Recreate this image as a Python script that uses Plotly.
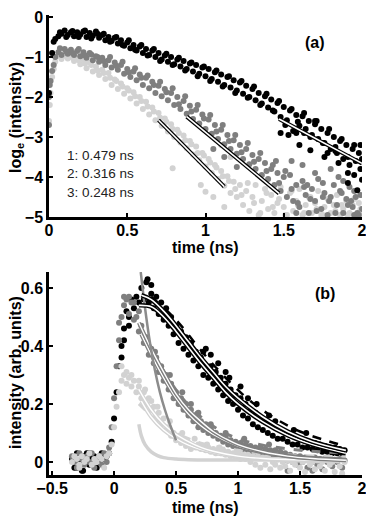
import plotly.graph_objects as go

# ---------------- panel (a): log_e(intensity) vs time ----------------
t_a = [
    0.00, 0.02, 0.04, 0.06, 0.08, 0.10, 0.12, 0.14, 0.16, 0.18,
    0.20, 0.22, 0.24, 0.26, 0.28, 0.30, 0.32, 0.34, 0.36, 0.38,
    0.40, 0.42, 0.44, 0.46, 0.48, 0.50, 0.52, 0.54, 0.56, 0.58,
    0.60, 0.62, 0.64, 0.66, 0.68, 0.70, 0.72, 0.74, 0.76, 0.78,
    0.80, 0.82, 0.84, 0.86, 0.88, 0.90, 0.92, 0.94, 0.96, 0.98,
    1.00, 1.02, 1.04, 1.06, 1.08, 1.10, 1.12, 1.14, 1.16, 1.18,
    1.20, 1.22, 1.24, 1.26, 1.28, 1.30, 1.32, 1.34, 1.36, 1.38,
    1.40, 1.42, 1.44, 1.46, 1.48, 1.50, 1.52, 1.54, 1.56, 1.58,
    1.60, 1.62, 1.64, 1.66, 1.68, 1.70, 1.72, 1.74, 1.76, 1.78,
    1.80, 1.82, 1.84, 1.86, 1.88, 1.90, 1.92, 1.94, 1.96, 1.98,
    2.00,
]
log_1 = [
    -1.90, -0.90, -0.55, -0.48, -0.42, -0.34, -0.45, -0.38, -0.48, -0.38,
    -0.44, -0.36, -0.50, -0.40, -0.47, -0.36, -0.52, -0.45, -0.58, -0.50,
    -0.60, -0.52, -0.66, -0.58, -0.72, -0.64, -0.78, -0.70, -0.84, -0.74,
    -0.90, -0.80, -0.95, -0.84, -1.00, -0.90, -1.06, -0.96, -1.12, -1.00,
    -1.18, -1.06, -1.24, -1.10, -1.30, -1.16, -1.36, -1.20, -1.42, -1.26,
    -1.48, -1.30, -1.55, -1.38, -1.62, -1.44, -1.70, -1.50, -1.76, -1.58,
    -1.84, -1.64, -1.92, -1.72, -2.00, -1.80, -2.08, -1.90, -2.16, -1.98,
    -2.26, -2.06, -2.36, -2.15, -2.50, -2.25, -2.58, -2.34, -2.85, -2.45,
    -2.72, -2.48, -2.80, -2.60, -2.95, -2.68, -3.05, -2.80, -3.15, -2.90,
    -3.30, -3.00, -3.40, -3.10, -3.55, -3.20, -3.70, -3.30, -3.60, -3.40,
    -3.55,
]
log_2 = [
    -2.70, -1.35, -1.00, -0.88, -0.95, -0.80, -0.92, -0.82, -0.95, -0.85,
    -0.98, -0.88, -1.02, -0.90, -1.08, -0.98, -1.12, -1.02, -1.20, -1.08,
    -1.26, -1.14, -1.32, -1.20, -1.42, -1.30, -1.50, -1.36, -1.58, -1.44,
    -1.70, -1.52, -1.78, -1.62, -1.90, -1.72, -1.98, -1.80, -2.08, -1.90,
    -2.20, -2.00, -2.30, -2.10, -2.42, -2.22, -2.55, -2.32, -2.66, -2.44,
    -2.80, -2.56, -2.92, -2.70, -3.05, -2.82, -3.18, -2.95, -3.30, -3.08,
    -3.42, -3.20, -3.55, -3.30, -3.68, -3.45, -3.80, -3.55, -3.95, -3.65,
    -4.05, -3.80, -4.20, -3.90, -4.35, -4.00, -4.50, -3.95, -4.60, -4.20,
    -4.75, -4.10, -4.45, -4.90, -4.30, -4.60, -4.05, -4.80, -4.40, -4.95,
    -4.50, -4.20, -4.70, -4.35, -4.90, -4.55, -4.25, -4.75, -4.50, -4.95,
    -4.80,
]
log_3 = [
    -2.60, -1.50, -1.12, -0.98, -1.05, -0.92, -1.04, -0.95, -1.10, -1.00,
    -1.18, -1.06, -1.28, -1.14, -1.36, -1.24, -1.45, -1.32, -1.55, -1.40,
    -1.70, -1.56, -1.80, -1.66, -1.92, -1.78, -2.04, -1.88, -2.16, -2.00,
    -2.30, -2.12, -2.44, -2.26, -2.58, -2.40, -2.72, -2.54, -2.86, -2.68,
    -3.00, -2.82, -3.14, -2.96, -3.28, -3.10, -3.44, -3.24, -3.58, -3.40,
    -3.74, -3.55, -3.90, -3.70, -4.05, -3.85, -4.22, -3.98, -4.40, -4.12,
    -4.50, -4.20, -4.70, -4.35, -4.85, -4.50, -4.20, -4.95, -4.60, -4.30,
    -4.80, -4.45, -4.90, -4.65, -4.25, -4.75, -4.95, -4.40, -4.85, -4.60,
    -4.30, -4.95, -4.70, -4.50, -4.90, -4.65, -4.35, -4.95, -4.75, -4.55,
    -4.90, -4.70, -4.45, -4.95, -4.80, -4.60, -4.90, -4.70, -4.95, -4.65,
    -4.85,
]
# second, looser pass of points that thickens each band
t_a_2 = [
    0.03, 0.07, 0.11, 0.15, 0.19, 0.23, 0.27, 0.31, 0.35, 0.39,
    0.43, 0.47, 0.51, 0.55, 0.59, 0.63, 0.67, 0.71, 0.75, 0.79,
    0.83, 0.87, 0.91, 0.95, 0.99, 1.03, 1.07, 1.11, 1.15, 1.19,
    1.23, 1.27, 1.31, 1.35, 1.39, 1.43, 1.47, 1.51, 1.55, 1.59,
    1.63, 1.67, 1.71, 1.75, 1.79, 1.83, 1.87, 1.91, 1.95, 1.99,
]
log_1b = [
    -0.62, -0.38, -0.50, -0.35, -0.50, -0.34, -0.54, -0.42, -0.42, -0.62,
    -0.50, -0.70, -0.58, -0.82, -0.70, -0.96, -0.80, -1.10, -0.92, -1.20,
    -1.02, -1.34, -1.14, -1.48, -1.24, -1.60, -1.34, -1.74, -1.48, -1.90,
    -1.60, -2.02, -1.74, -2.20, -1.92, -2.34, -2.10, -2.70, -2.30, -2.62,
    -2.40, -3.00, -2.60, -3.15, -2.80, -3.35, -3.05, -3.50, -3.20, -3.80,
]
log_2b = [
    -1.20, -0.78, -0.86, -0.90, -0.80, -0.96, -0.94, -1.00, -1.10, -1.00,
    -1.22, -1.12, -1.38, -1.28, -1.52, -1.46, -1.70, -1.62, -1.88, -1.78,
    -2.18, -1.98, -2.36, -2.20, -2.54, -2.45, -2.86, -2.70, -3.10, -2.95,
    -3.38, -3.15, -3.62, -3.40, -3.85, -3.70, -4.15, -3.85, -4.30, -4.65,
    -4.25, -4.55, -4.85, -4.15, -4.60, -4.90, -4.40, -4.70, -4.95, -4.45,
]
log_3b = [
    -1.30, -0.90, -0.98, -1.02, -1.08, -1.16, -1.20, -1.34, -1.40, -1.52,
    -1.60, -1.74, -1.84, -1.98, -2.10, -2.24, -2.36, -2.52, -2.62, -2.80,
    -2.90, -3.08, -3.18, -3.40, -3.46, -3.64, -3.76, -3.98, -4.10, -4.30,
    -4.45, -4.15, -4.65, -4.90, -4.40, -4.75, -4.55, -4.95, -4.35, -4.70,
    -4.90, -4.50, -4.80, -4.95, -4.60, -4.85, -4.70, -4.95, -4.55, -4.80,
]
# stray points off the main bands
t_a_extra_1 = [1.48, 1.53, 1.58, 1.63, 1.60, 1.67, 1.78, 1.85, 1.91, 1.97, 2.00, 1.99, 1.91, 1.83, 1.76, 1.70, 1.95]
log_extra_1 = [-2.90, -2.95, -2.90, -2.90, -3.20, -3.33, -3.40, -3.65, -4.15, -4.33, -4.07, -3.20, -3.90, -3.25, -3.50, -2.60, -3.95]
t_a_extra_2 = [0.00, 0.005, 0.01, 1.05, 1.12, 1.20, 1.45, 1.55, 1.58, 1.62, 1.65, 1.70, 1.75, 1.80, 1.85, 1.88, 1.93, 1.95, 1.97]
log_extra_2 = [-2.00, -1.70, -1.60, -3.30, -3.50, -3.75, -3.60, -3.60, -4.90, -3.70, -4.20, -3.90, -4.50, -3.80, -4.00, -4.10, -4.60, -4.35, -4.90]
t_a_extra_3 = [0.005, 0.01, 0.79, 0.97, 1.00, 1.05, 1.10, 1.12, 1.16]
log_extra_3 = [-2.20, -1.90, -3.78, -4.20, -4.37, -4.50, -3.20, -4.75, -3.50]

# straight-line fits drawn over the tails
fit_a_t1 = [1.47, 2.00]
fit_a_y1 = [-2.55, -3.66]
fit_a_t2 = [0.88, 1.47]
fit_a_y2 = [-2.49, -4.41]
fit_a_t3 = [0.70, 1.12]
fit_a_y3 = [-2.58, -4.24]
lifetimes = ["1: 0.479 ns", "2: 0.316 ns", "3: 0.248 ns"]

# ---------------- panel (b): linear intensity vs time ----------------
t_b = [
    -0.34, -0.32, -0.30, -0.28, -0.26, -0.24, -0.22, -0.20, -0.18, -0.16,
    -0.14, -0.12, -0.10, -0.08, -0.06, -0.04, -0.02, 0.00, 0.02, 0.04,
    0.06, 0.08, 0.10, 0.12, 0.14, 0.16, 0.18, 0.20, 0.22, 0.24,
    0.26, 0.28, 0.30, 0.32, 0.34, 0.36, 0.38, 0.40, 0.42, 0.44,
    0.46, 0.48, 0.50, 0.52, 0.54, 0.56, 0.58, 0.60, 0.62, 0.64,
    0.66, 0.68, 0.70, 0.72, 0.74, 0.76, 0.78, 0.80, 0.82, 0.84,
    0.86, 0.88, 0.90, 0.92, 0.94, 0.96, 0.98, 1.00, 1.02, 1.04,
    1.06, 1.08, 1.10, 1.12, 1.14, 1.16, 1.18, 1.20, 1.22, 1.24,
    1.26, 1.28, 1.30, 1.32, 1.34, 1.36, 1.38, 1.40, 1.42, 1.44,
    1.46, 1.48, 1.50, 1.52, 1.54, 1.56, 1.58, 1.60, 1.62, 1.64,
    1.66, 1.68, 1.70, 1.72, 1.74, 1.76, 1.78, 1.80, 1.82, 1.84,
    1.86,
]
int_1 = [
    0.01, -0.02, 0.03, 0.00, -0.03, 0.02, 0.03, -0.01, 0.01, 0.02,
    -0.02, 0.00, 0.03, 0.01, 0.02, 0.03, 0.07, 0.15, 0.24, 0.33,
    0.40, 0.46, 0.52, 0.50, 0.56, 0.53, 0.57, 0.55, 0.60, 0.56,
    0.62, 0.55, 0.58, 0.53, 0.57, 0.51, 0.55, 0.49, 0.53, 0.47,
    0.50, 0.44, 0.47, 0.41, 0.45, 0.39, 0.43, 0.37, 0.41, 0.35,
    0.38, 0.33, 0.36, 0.30, 0.39, 0.29, 0.33, 0.27, 0.31, 0.25,
    0.29, 0.23, 0.27, 0.21, 0.25, 0.20, 0.23, 0.18, 0.22, 0.16,
    0.20, 0.15, 0.18, 0.13, 0.17, 0.12, 0.15, 0.11, 0.14, 0.10,
    0.13, 0.09, 0.12, 0.08, 0.11, 0.08, 0.10, 0.07, 0.095, 0.06,
    0.085, 0.06, 0.08, 0.05, 0.075, 0.05, 0.07, 0.045, 0.065, 0.04,
    0.06, 0.035, 0.055, 0.035, 0.05, 0.03, 0.05, 0.03, 0.045, 0.03,
    0.04,
]
int_2 = [
    0.02, 0.00, -0.02, 0.03, 0.01, -0.01, 0.02, 0.00, 0.03, -0.02,
    0.01, 0.02, -0.01, 0.03, 0.00, 0.05, 0.12, 0.22, 0.33, 0.42,
    0.50, 0.54, 0.56, 0.51, 0.55, 0.49, 0.50, 0.45, 0.47, 0.41,
    0.43, 0.37, 0.39, 0.34, 0.36, 0.31, 0.33, 0.28, 0.30, 0.25,
    0.27, 0.22, 0.24, 0.20, 0.22, 0.18, 0.20, 0.16, 0.18, 0.14,
    0.16, 0.12, 0.14, 0.11, 0.13, 0.10, 0.115, 0.09, 0.10, 0.08,
    0.09, 0.07, 0.085, 0.06, 0.075, 0.055, 0.07, 0.05, 0.065, 0.045,
    0.06, 0.04, 0.055, 0.035, 0.05, 0.03, 0.05, 0.025, 0.045, 0.02,
    0.04, 0.02, 0.04, 0.015, 0.035, 0.01, 0.03, 0.005, 0.025, 0.00,
    0.02, -0.01, 0.02, 0.00, 0.015, -0.02, 0.01, 0.00, 0.015, -0.01,
    0.01, -0.025, 0.01, 0.00, 0.012, -0.015, 0.008, 0.00, 0.01, -0.02,
    0.005,
]
int_3 = [
    0.00, 0.02, 0.01, -0.01, 0.02, 0.00, 0.01, 0.03, -0.01, 0.01,
    0.00, 0.02, 0.01, -0.02, 0.02, 0.03, 0.06, 0.12, 0.19, 0.24,
    0.28, 0.30, 0.27, 0.29, 0.26, 0.28, 0.24, 0.26, 0.22, 0.24,
    0.20, 0.22, 0.18, 0.19, 0.15, 0.17, 0.13, 0.15, 0.11, 0.12,
    0.09, 0.10, 0.075, 0.09, 0.065, 0.075, 0.055, 0.065, 0.045, 0.055,
    0.05, 0.06, 0.045, 0.055, 0.04, 0.05, 0.035, 0.045, 0.03, 0.04,
    0.03, 0.04, 0.025, 0.035, 0.02, 0.03, 0.015, 0.03, 0.01, 0.025,
    0.01, 0.025, 0.00, 0.02, -0.01, 0.02, -0.02, 0.015, -0.01, 0.02,
    -0.025, 0.00, -0.01, 0.008, -0.02, 0.00, -0.015, 0.005, -0.03, 0.00,
    -0.01, 0.008, -0.02, 0.00, -0.035, 0.005, -0.01, 0.00, -0.025, 0.005,
    -0.015, 0.00, -0.03, 0.005, -0.01, 0.00, -0.035, 0.005, -0.015, -0.04,
    0.00,
]
t_b_extra_1 = [-0.25, -0.20, -0.30, 0.06, 0.08, 0.12, 0.27, 0.30, 0.72, 0.78, 0.84, 0.90, 0.93, 1.02, 1.08, 1.15, 1.25, 1.30, 1.45, 1.55]
int_extra_1 = [-0.03, 0.03, -0.02, 0.36, 0.42, 0.47, 0.63, 0.61, 0.38, 0.37, 0.34, 0.31, 0.29, 0.26, 0.22, 0.20, 0.16, 0.14, 0.11, 0.10]
t_b_extra_2 = [0.04, 0.08, 0.12, 0.16, 0.20, 0.33, 0.45, 0.55, 0.62, 0.68, 0.78, 0.90, 1.05, 1.25, 1.40, 1.60]
int_extra_2 = [0.48, 0.57, 0.57, 0.55, 0.52, 0.38, 0.30, 0.24, 0.20, 0.17, 0.13, 0.10, 0.08, 0.06, -0.03, -0.03]
t_b_extra_3 = [0.06, 0.10, 0.14, 0.20, 0.25, 0.30, 0.35, 0.45, 0.55, 0.65, 0.75, 0.85, 1.00, -0.28, -0.15]
int_extra_3 = [0.33, 0.31, 0.30, 0.28, 0.25, 0.21, 0.19, 0.14, 0.10, 0.08, 0.06, 0.05, 0.035, -0.02, 0.00]

# fitted decay curves
fit_b_t1a = [0.22, 0.30, 0.40, 0.50, 0.60, 0.70, 0.80, 0.90, 1.00, 1.20, 1.40, 1.60, 1.87]
fit_b_y1a = [0.575, 0.56, 0.52, 0.47, 0.415, 0.36, 0.31, 0.26, 0.22, 0.155, 0.105, 0.07, 0.04]
fit_b_t1b = [0.20, 0.30, 0.40, 0.50, 0.60, 0.70, 0.80, 0.90, 1.00, 1.20, 1.40, 1.60, 1.87]
fit_b_y1b = [0.54, 0.535, 0.50, 0.45, 0.395, 0.34, 0.29, 0.24, 0.20, 0.138, 0.092, 0.06, 0.03]
fit_b_t1c = [0.30, 0.50, 0.70, 0.90, 1.10, 1.30, 1.50, 1.70, 1.87]
fit_b_y1c = [0.57, 0.49, 0.385, 0.29, 0.21, 0.15, 0.105, 0.075, 0.055]
fit_b_t2a = [0.20, 0.30, 0.40, 0.50, 0.60, 0.70, 0.80, 0.90, 1.00, 1.20, 1.40, 1.60, 1.87]
fit_b_y2a = [0.48, 0.39, 0.31, 0.235, 0.18, 0.14, 0.105, 0.08, 0.06, 0.035, 0.02, 0.012, 0.006]
fit_b_t2b = [0.22, 0.30, 0.40, 0.50, 0.60, 0.70, 0.80, 1.00, 1.20, 1.50, 1.87]
fit_b_y2b = [0.44, 0.37, 0.29, 0.22, 0.165, 0.125, 0.095, 0.055, 0.033, 0.017, 0.008]
fit_b_t2c = [0.25, 0.35, 0.45, 0.55, 0.70, 0.85, 1.00, 1.20, 1.40, 1.60, 1.87]
fit_b_y2c = [0.43, 0.35, 0.28, 0.22, 0.155, 0.11, 0.08, 0.058, 0.045, 0.037, 0.03]
fit_b_t2d = [0.215, 0.25, 0.29, 0.33, 0.37, 0.41, 0.45, 0.50]
fit_b_y2d = [0.655, 0.53, 0.41, 0.315, 0.24, 0.18, 0.13, 0.075]
fit_b_t3a = [0.20, 0.30, 0.40, 0.50, 0.60, 0.70, 0.80, 1.00, 1.20, 1.50, 1.87]
fit_b_y3a = [0.25, 0.18, 0.13, 0.095, 0.07, 0.05, 0.037, 0.02, 0.012, 0.007, 0.005]
fit_b_t3b = [0.22, 0.30, 0.40, 0.50, 0.60, 0.80, 1.00, 1.30, 1.87]
fit_b_y3b = [0.21, 0.155, 0.11, 0.08, 0.058, 0.032, 0.018, 0.01, 0.006]
fit_b_t3c = [0.20, 0.30, 0.40, 0.50, 0.60, 0.70, 0.85, 1.00, 1.20, 1.50, 1.87]
fit_b_y3c = [0.20, 0.16, 0.125, 0.10, 0.08, 0.065, 0.05, 0.04, 0.03, 0.022, 0.018]
fit_b_t3d = [0.20, 0.22, 0.25, 0.30, 0.35, 0.40, 0.50, 0.60, 0.80, 1.00, 1.40, 1.87]
fit_b_y3d = [0.13, 0.09, 0.06, 0.035, 0.022, 0.015, 0.01, 0.008, 0.007, 0.007, 0.007, 0.007]

BLACK = "#000000"
GREY = "#7f7f7f"
LIGHT = "#d2d2d2"

# the page body keeps an 8px margin, so the figure is 8px smaller each way
# and every position below is given in window pixels minus that offset
W, H, OFF = 366, 511, 8


def px(x):
    return (x - OFF) / W


def py(y):
    return 1 - (y - OFF) / H


fig = go.Figure()


def dots(t, y, color, xa, ya):
    fig.add_trace(go.Scatter(x=t, y=y, mode="markers", xaxis=xa, yaxis=ya,
                             marker=dict(size=6, color=color, line=dict(width=0)),
                             hoverinfo="skip", showlegend=False))


def fit(t, y, color, xa, ya, width=4.5, core=1.6, dash="solid"):
    fig.add_trace(go.Scatter(x=t, y=y, mode="lines", xaxis=xa, yaxis=ya,
                             line=dict(color=color, width=width, dash=dash, shape="spline"),
                             hoverinfo="skip", showlegend=False))
    if core:
        fig.add_trace(go.Scatter(x=t, y=y, mode="lines", xaxis=xa, yaxis=ya,
                                 line=dict(color="white", width=core, dash=dash, shape="spline"),
                                 hoverinfo="skip", showlegend=False))


# panel (a)
dots(t_a, log_3, LIGHT, "x", "y")
dots(t_a_2, log_3b, LIGHT, "x", "y")
dots(t_a_extra_3, log_extra_3, LIGHT, "x", "y")
dots(t_a, log_2, GREY, "x", "y")
dots(t_a_2, log_2b, GREY, "x", "y")
dots(t_a_extra_2, log_extra_2, GREY, "x", "y")
dots(t_a, log_1, BLACK, "x", "y")
dots(t_a_2, log_1b, BLACK, "x", "y")
dots(t_a_extra_1, log_extra_1, BLACK, "x", "y")
fit(fit_a_t1, fit_a_y1, BLACK, "x", "y", width=4, core=1.6)
fit(fit_a_t2, fit_a_y2, BLACK, "x", "y", width=4, core=1.6)
fit(fit_a_t3, fit_a_y3, BLACK, "x", "y", width=4, core=1.6)

# panel (b)
dots(t_b, int_1, BLACK, "x2", "y2")
dots(t_b_extra_1, int_extra_1, BLACK, "x2", "y2")
dots(t_b, int_2, GREY, "x2", "y2")
dots(t_b_extra_2, int_extra_2, GREY, "x2", "y2")
dots(t_b, int_3, LIGHT, "x2", "y2")
dots(t_b_extra_3, int_extra_3, LIGHT, "x2", "y2")
fit(fit_b_t3d, fit_b_y3d, LIGHT, "x2", "y2", width=3.5, core=0)
fit(fit_b_t3c, fit_b_y3c, LIGHT, "x2", "y2", width=3, core=0, dash="dash")
fit(fit_b_t3b, fit_b_y3b, LIGHT, "x2", "y2", width=4, core=1.4)
fit(fit_b_t3a, fit_b_y3a, LIGHT, "x2", "y2", width=4, core=1.4)
fit(fit_b_t2c, fit_b_y2c, GREY, "x2", "y2", width=3, core=0, dash="dash")
fit(fit_b_t2b, fit_b_y2b, GREY, "x2", "y2", width=4, core=1.4)
fit(fit_b_t2a, fit_b_y2a, GREY, "x2", "y2", width=4, core=1.4)
fit(fit_b_t2d, fit_b_y2d, "#8c8c8c", "x2", "y2", width=2.5, core=0)
fit(fit_b_t1c, fit_b_y1c, BLACK, "x2", "y2", width=2.5, core=0, dash="dash")
fit(fit_b_t1b, fit_b_y1b, BLACK, "x2", "y2", width=4.5, core=1.6)
fit(fit_b_t1a, fit_b_y1a, BLACK, "x2", "y2", width=4.5, core=1.6)

axis_style = dict(showline=True, linecolor="black", linewidth=2.5, showgrid=False,
                  zeroline=False, ticks="inside", ticklen=4, tickwidth=2, tickcolor="black",
                  tickfont=dict(size=16, weight="bold", color="black"), mirror=False,
                  automargin=False)
xdom = [px(49), px(362)]

fig.update_layout(
    width=W, height=H,
    margin=dict(l=0, r=0, t=0, b=0),
    paper_bgcolor="white", plot_bgcolor="white",
    font=dict(family="Liberation Sans, Arial, sans-serif", size=16, color="black"),
    showlegend=False,
    xaxis=dict(domain=xdom, range=[0, 2.0], tickvals=[0, 0.5, 1, 1.5, 2], anchor="y",
               ticklabelstandoff=-3, **axis_style),
    yaxis=dict(domain=[py(217), py(15)], range=[-5, 0.05], tickvals=[-5, -4, -3, -2, -1, 0],
               anchor="x", **axis_style),
    xaxis2=dict(domain=xdom, range=[-0.525, 2.0], tickvals=[-0.5, 0, 0.5, 1, 1.5, 2], anchor="y2",
                ticklabelstandoff=-3, **axis_style),
    yaxis2=dict(domain=[py(475), py(272)], range=[-0.045, 0.655], tickvals=[0, 0.2, 0.4, 0.6],
                anchor="x2", **axis_style),
)

bold = dict(size=16, weight="bold", color="black")
notes = [
    dict(text="(a)", x=px(315), y=py(42), font=bold),
    dict(text="(b)", x=px(325), y=py(293), font=bold),
    dict(text="time (ns)", x=px(205), y=py(247), font=bold),
    dict(text="time (ns)", x=px(205), y=py(507), font=bold),
    dict(text="log<sub>e</sub> (intensity)", x=px(16), y=py(118), font=bold, textangle=-90),
    dict(text="intensity (arb. units)", x=px(15), y=py(373), font=bold, textangle=-90),
]
for i, label in enumerate(lifetimes):
    notes.append(dict(text=label, x=px(65), y=py(155 + 18.5 * i), xanchor="left",
                      font=dict(size=13.5, color="#222222")))
for n in notes:
    n.setdefault("xanchor", "center")
    fig.add_annotation(xref="paper", yref="paper", showarrow=False, yanchor="middle", **n)

fig.write_html("out.html")
